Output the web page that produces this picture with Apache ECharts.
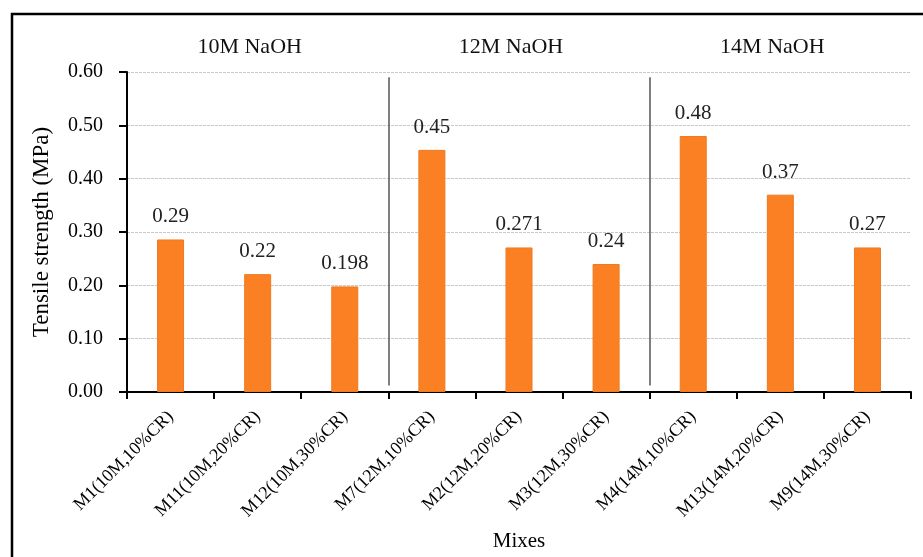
<!DOCTYPE html>
<html><head><meta charset="utf-8">
<script src="https://cdn.jsdelivr.net/npm/echarts@6/dist/echarts.min.js"></script>
<style>html,body{margin:0;padding:0;background:#fff;overflow:hidden}#c{width:923px;height:557px}</style>
</head><body><div id="c"></div>
<script>
const categories = ['M1(10M,10%CR)','M11(10M,20%CR)','M12(10M,30%CR)','M7(12M,10%CR)','M2(12M,20%CR)','M3(12M,30%CR)','M4(14M,10%CR)','M13(14M,20%CR)','M9(14M,30%CR)'];
const values = [0.286, 0.221, 0.198, 0.454, 0.271, 0.24, 0.48, 0.37, 0.271];
const valueLabels = ['0.29','0.22','0.198','0.45','0.271','0.24','0.48','0.37','0.27'];
const groupTitles = ['10M NaOH','12M NaOH','14M NaOH'];
const groupCenters = [1.5, 4.5, 7.5];
const dividers = [3, 6];

const FONT = '"Liberation Serif", "DejaVu Serif", serif';
const chart = echarts.init(document.getElementById('c'));
const option = {
  animation: false,
  grid: { left: 127, right: 12, top: 72, bottom: 165, containLabel: false, outerBoundsMode: 'none' },
  xAxis: [{
    type: 'category', data: categories,
    axisLine: { lineStyle: { color: '#000', width: 2 } },
    axisTick: { show: true, alignWithLabel: false, length: 7, lineStyle: { color: '#000', width: 2 } },
    axisLabel: { rotate: 45, interval: 0, margin: 22, fontFamily: FONT, fontSize: 18, color: '#000' },
    name: 'Mixes', nameLocation: 'middle', nameGap: 139,
    nameTextStyle: { fontFamily: FONT, fontSize: 21, color: '#000' }
  }, {
    type: 'value', min: 0, max: 9, show: false
  }],
  yAxis: {
    type: 'value', min: 0, max: 0.6, interval: 0.1,
    axisLine: { show: true, lineStyle: { color: '#000', width: 2 } },
    axisTick: { show: true, length: 8, lineStyle: { color: '#000', width: 2 } },
    axisLabel: { margin: 24, fontFamily: FONT, fontSize: 20, color: '#000',
      formatter: v => v.toFixed(2) },
    splitLine: { lineStyle: { color: '#c8c8c8', width: 1.2, type: [3, 1] } },
    name: 'Tensile strength (MPa)', nameLocation: 'middle', nameGap: 74,
    nameTextStyle: { fontFamily: FONT, fontSize: 23, color: '#000' }
  },
  series: [{
    type: 'bar', data: values, barWidth: '31%',
    itemStyle: { color: '#FB8023', borderColor: '#F07A1E', borderWidth: 1 },
    label: { show: true, position: 'top', distance: 12, fontFamily: FONT, fontSize: 21, color: '#222',
      formatter: p => valueLabels[p.dataIndex] }
  }, {
    type: 'line', xAxisIndex: 1, data: [], symbol: 'none',
    markLine: {
      silent: true, symbol: 'none', label: { show: false },
      lineStyle: { color: '#555', width: 1.5, type: 'solid' },
      data: dividers.map(d => [{ coord: [d, 0.012] }, { coord: [d, 0.59] }])
    }
  }],
  graphic: [{
    type: 'rect', shape: { x: 12, y: 14, width: 930, height: 600 },
    style: { fill: 'none', stroke: '#000', lineWidth: 2.5 }, silent: true
  }]
};
chart.setOption(option);
const gtexts = groupTitles.map((t, i) => {
  const px = chart.convertToPixel({ xAxisIndex: 1 }, groupCenters[i]);
  return { type: 'text', x: px - 8, y: 47, style: { text: t, fontFamily: FONT, fontSize: 22, fill: '#111', textAlign: 'center', textVerticalAlign: 'middle' } };
});
chart.setOption({ graphic: option.graphic.concat(gtexts) });
</script></body></html>
